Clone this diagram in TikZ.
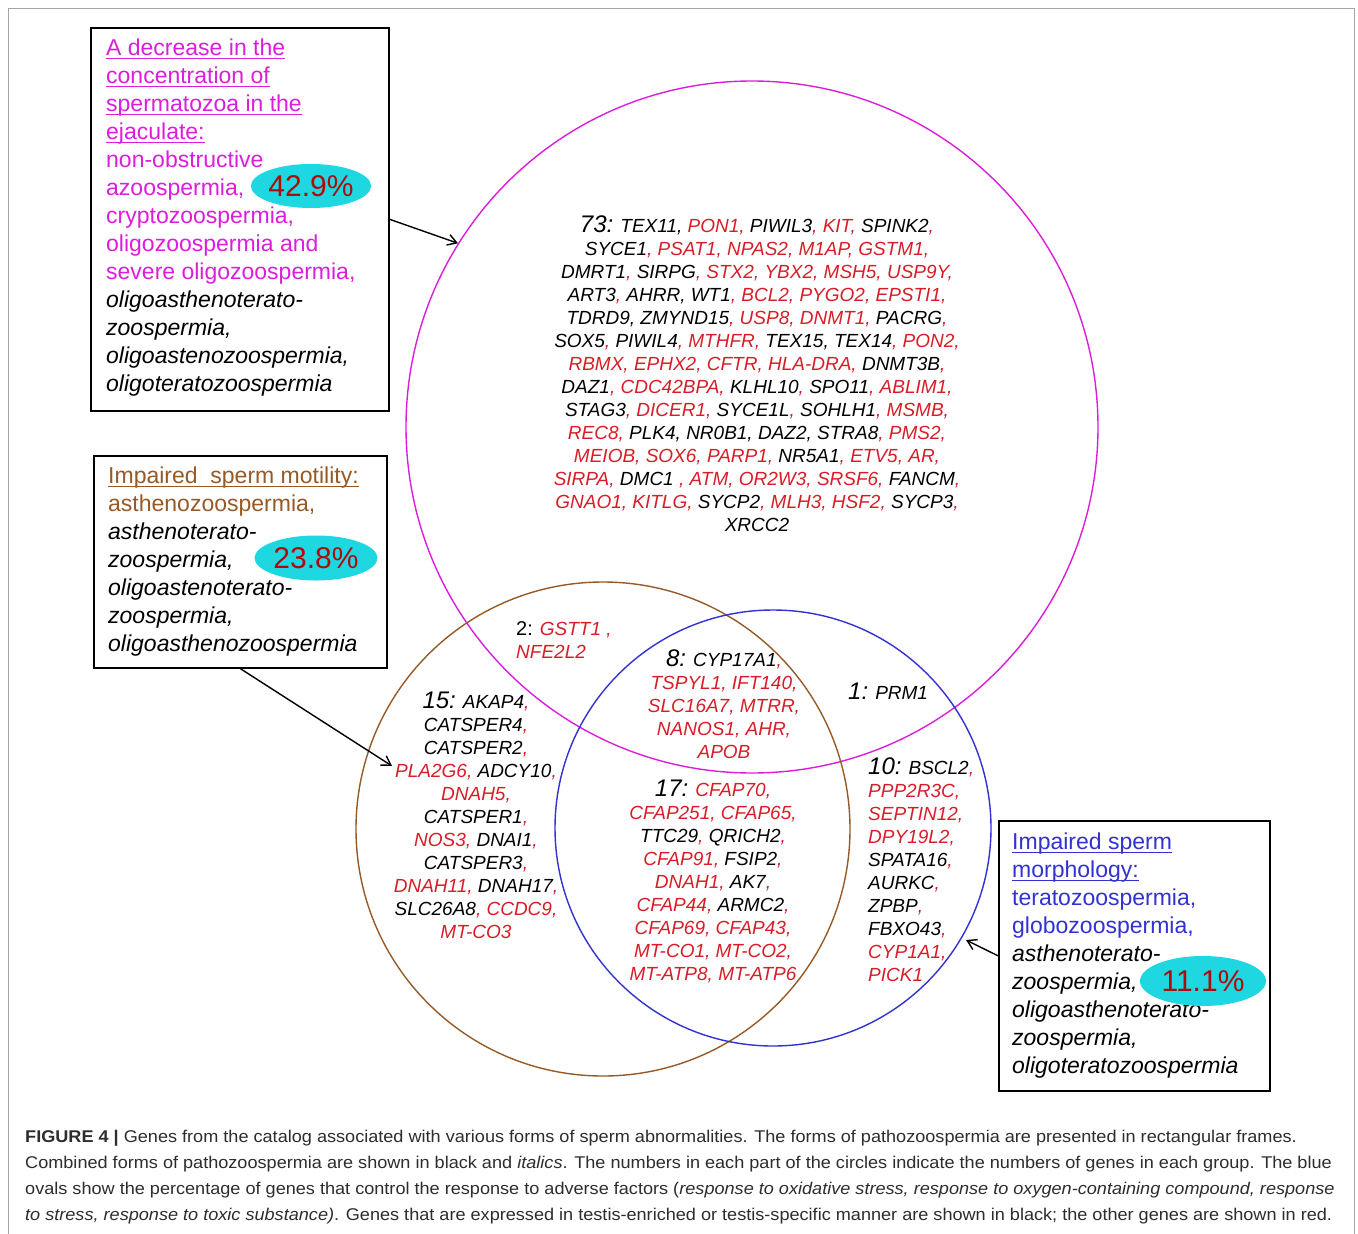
\documentclass[tikz,border=0pt]{standalone}
\usepackage{fontspec}
\setmainfont{Liberation Sans}
\newfontfamily\capfont[FakeStretch=1.065]{Liberation Sans}
\usetikzlibrary{shapes.geometric,arrows.meta}
\definecolor{gred}{RGB}{215,30,40}
\definecolor{mag}{RGB}{220,30,220}
\definecolor{brn}{RGB}{150,90,40}
\definecolor{blu}{RGB}{50,50,210}
\definecolor{cyo}{RGB}{30,215,225}
\definecolor{pct}{RGB}{175,10,10}
\definecolor{capc}{RGB}{45,45,45}
\newcommand\gR[1]{\textcolor{gred}{#1}}
\newcommand\numsz{\fontsize{24}{23}\selectfont}
\newcommand\myul[1]{\setbox0\hbox{#1}\rlap{\rule[-3.5pt]{\wd0}{1.1pt}}\box0}
\tikzset{
  gtxt/.style={inner sep=0pt, font=\fontsize{19}{23}\selectfont\itshape},
  boxtxt/.style={inner sep=0pt, anchor=north west, align=left, font=\fontsize{23}{28}\selectfont},
  boxframe/.style={draw=black, line width=1.6pt, inner sep=0pt, anchor=north west},
  ring/.style={circle, inner sep=0pt, line width=1.4pt},
  pctov/.style={ellipse, fill=cyo, inner sep=0pt, text=pct, font=\fontsize{30}{30}\selectfont},
  arr/.style={line width=1.4pt, -{Straight Barb[length=9pt,width=11pt,line width=1.4pt]}}
}
\begin{document}
\begin{tikzpicture}[x=1pt,y=-1pt]
\useasboundingbox (0,0) rectangle (1358,1234);
\fill[white] (0,0) rectangle (1358,1234);
\draw[gray!70, line width=1pt] (8,1234) -- (8,8) -- (1354,8) -- (1354,1234);

% circles
\node[ring, draw=mag, minimum size=692pt] (cm) at (752,427) {};
\node[ring, draw=brn, minimum size=494pt] (cb) at (603,829) {};
\node[ring, draw=blu, minimum size=436pt] (cbl) at (773,828) {};

% gene groups
\node[gtxt, anchor=north, align=center] (t73) at (757,216) {%
{\numsz 73:} TEX11, \gR{PON1,} PIWIL3\gR{,} \gR{KIT,} SPINK2\gR{,}\\
SYCE1\gR{, PSAT1, NPAS2, M1AP, GSTM1,}\\
DMRT1\gR{,} SIRPG\gR{, STX2, YBX2, MSH5, USP9Y,}\\
ART3\gR{,} AHRR, WT1\gR{, BCL2, PYGO2, EPSTI1,}\\
TDRD9, ZMYND15\gR{, USP8, DNMT1,} PACRG\gR{,}\\
SOX5\gR{,} PIWIL4\gR{, MTHFR,} TEX15, TEX14\gR{, PON2,}\\
\gR{RBMX, EPHX2, CFTR, HLA-DRA,} DNMT3B\gR{,}\\
DAZ1\gR{, CDC42BPA,} KLHL10\gR{,} SPO11\gR{, ABLIM1,}\\
STAG3\gR{, DICER1,} SYCE1L\gR{,} SOHLH1\gR{, MSMB,}\\
\gR{REC8,} PLK4, NR0B1, DAZ2, STRA8\gR{, PMS2,}\\
\gR{MEIOB, SOX6, PARP1,} NR5A1\gR{, ETV5, AR,}\\
\gR{SIRPA,} DMC1 \gR{, ATM, OR2W3, SRSF6,} FANCM\gR{,}\\
\gR{GNAO1, KITLG,} SYCP2\gR{, MLH3, HSF2,} SYCP3\gR{,}\\
XRCC2};

\node[gtxt, anchor=north west, align=left] (t2) at (516,621) {%
{\upshape\fontsize{20}{23}\selectfont 2:} \gR{GSTT1 ,}\\
\gR{NFE2L2}};

\node[gtxt, anchor=north, align=center] (t8) at (724,650) {%
{\numsz 8:} CYP17A1\gR{,}\\
\gR{TSPYL1, IFT140,}\\
\gR{SLC16A7, MTRR,}\\
\gR{NANOS1, AHR,}\\
\gR{APOB}};

\node[gtxt, anchor=north west] (t1) at (848,683) {{\numsz 1:} PRM1};

\node[gtxt, anchor=north, align=center] (t15) at (476,692) {%
{\numsz 15:} AKAP4\gR{,}\\
CATSPER4\gR{,}\\
CATSPER2\gR{,}\\
\gR{PLA2G6,} ADCY10\gR{,}\\
\gR{DNAH5,}\\
CATSPER1\gR{,}\\
\gR{NOS3,} DNAI1\gR{,}\\
CATSPER3\gR{,}\\
\gR{DNAH11,} DNAH17\gR{,}\\
SLC26A8\gR{, CCDC9,}\\
\gR{MT-CO3}};

\node[gtxt, anchor=north, align=center] (t17) at (713,780) {%
{\numsz 17:} \gR{CFAP70,}\\
\gR{CFAP251, CFAP65,}\\
TTC29\gR{,} QRICH2\gR{,}\\
\gR{CFAP91,} FSIP2\gR{,}\\
\gR{DNAH1,} AK7\gR{,}\\
\gR{CFAP44,} ARMC2\gR{,}\\
\gR{CFAP69, CFAP43,}\\
\gR{MT-CO1, MT-CO2,}\\
\gR{MT-ATP8, MT-ATP6}};

\node[gtxt, anchor=north west, align=left] (t10) at (868,758) {%
{\numsz 10:} BSCL2\gR{,}\\
\gR{PPP2R3C,}\\
\gR{SEPTIN12,}\\
\gR{DPY19L2,}\\
SPATA16\gR{,}\\
AURKC\gR{,}\\
ZPBP\gR{,}\\
FBXO43\gR{,}\\
\gR{CYP1A1,}\\
\gR{PICK1}};

% frames
\node[boxframe, minimum width=298pt, minimum height=383pt] (box1) at (90,27) {};
\node[boxframe, minimum width=293pt, minimum height=212pt] (box2) at (93,455) {};
\node[boxframe, minimum width=271pt, minimum height=270pt] (box3) at (998,820) {};

\node[boxtxt] (b1t) at (106,39) {%
\textcolor{mag}{\myul{A decrease in the}}\\
\textcolor{mag}{\myul{concentration of}}\\
\textcolor{mag}{\myul{spermatozoa in the}}\\
\textcolor{mag}{\myul{ejaculate:}}\\
\textcolor{mag}{non-obstructive}\\
\textcolor{mag}{azoospermia,}\\
\textcolor{mag}{cryptozoospermia,}\\
\textcolor{mag}{oligozoospermia and}\\
\textcolor{mag}{severe oligozoospermia,}\\
\textit{oligoasthenoterato-}\\
\textit{zoospermia,}\\
\textit{oligoastenozoospermia,}\\
\textit{oligoteratozoospermia}};

\node[boxtxt] (b2t) at (108,467) {%
\textcolor{brn}{\myul{Impaired\ \ sperm motility:}}\\
\textcolor{brn}{asthenozoospermia,}\\
\textit{asthenoterato-}\\
\textit{zoospermia,}\\
\textit{oligoastenoterato-}\\
\textit{zoospermia,}\\
\textit{oligoasthenozoospermia}};

\node[boxtxt] (b3t) at (1012,833) {%
\textcolor{blu}{\myul{Impaired sperm}}\\
\textcolor{blu}{\myul{morphology:}}\\
\textcolor{blu}{teratozoospermia,}\\
\textcolor{blu}{globozoospermia,}\\
\textit{asthenoterato-}\\
\textit{zoospermia,}\\
\textit{oligoasthenoterato-}\\
\textit{zoospermia,}\\
\textit{oligoteratozoospermia}};

% percentage ovals
\node[pctov, minimum width=108pt, minimum height=44pt] (p1) at (311,186) {42.9\%};
\node[pctov, minimum width=123pt, minimum height=45pt] (p2) at (316,558) {23.8\%};
\node[pctov, minimum width=126pt, minimum height=50pt] (p3) at (1203,981) {11.1\%};

% arrows
\coordinate (a2end) at (392,766);
\coordinate (a3end) at (966,940);
\draw[arr] (box1.east) -- (cm.148);
\draw[arr] (box2.south) -- (a2end);
\draw[arr] (box3.west) -- (a3end);

% caption
\node[inner sep=0pt, anchor=north west, align=left, text=capc, font=\capfont\fontsize{17}{26}\selectfont] (cap) at (25,1130) {%
\textbf{FIGURE 4 |} Genes from the catalog associated with various forms of sperm abnormalities. The forms of pathozoospermia are presented in rectangular frames.\\
Combined forms of pathozoospermia are shown in black and \textit{italics}. The numbers in each part of the circles indicate the numbers of genes in each group. The blue\\
ovals show the percentage of genes that control the response to adverse factors (\textit{response to oxidative stress, response to oxygen-containing compound, response}\\
\textit{to stress, response to toxic substance)}. Genes that are expressed in testis-enriched or testis-specific manner are shown in black; the other genes are shown in red.};
\end{tikzpicture}
\end{document}
